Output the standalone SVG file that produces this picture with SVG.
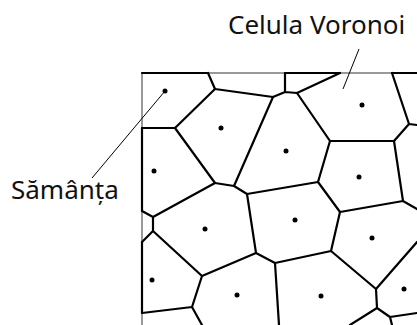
<svg xmlns="http://www.w3.org/2000/svg" width="417" height="325" viewBox="0 0 417 325">
<style>
.frame{fill:none;stroke:#333;stroke-width:1}
.edge{fill:none;stroke:#000;stroke-width:2.2;stroke-linecap:round;stroke-linejoin:round}
.seed{fill:#000}
.lead{fill:none;stroke:#000;stroke-width:1}
.lbl{font-family:"Noto Sans","Open Sans","DejaVu Sans",sans-serif;font-size:26px;fill:#111}
</style>
<rect width="417" height="325" fill="#fff"/>
<g id="frame">
<path class="frame" d="M142,325 V73 H417"/>
</g>
<g id="edges">
<path class="edge" d="M142,73 H208 M285,73 H340 M392,73 H417 M142,128 V211 M142,242 V313"/>
<path class="edge" d="M208,73 L215,89 L273,97 L285,92 L297,93 L340,73 M285,92 V73 M297,93 L330,141 L394,141 L409,124 L392,73 M409,124 L417,125"/>
<path class="edge" d="M215,89 L175,128 L142,128 M175,128 L215,183 L234,186 L273,97 M234,186 L247,194 L318,182 L330,141 M318,182 L340,212 L403,201 L394,141 M403,201 L417,209"/>
<path class="edge" d="M215,183 L153,217 L142,211 M153,217 L153,231 L142,242 M153,231 L202,276 L256,253 L247,194 M256,253 L275,263 L279,325 M202,276 L192,307 L142,313 M192,307 L202,325"/>
<path class="edge" d="M340,212 L331,251 L275,263 M331,251 L376,289 L417,242 M376,289 L377,308 L350,325 M377,308 L390,317 L417,313 M390,317 L392,325"/>
</g>
<g id="seeds">
<circle class="seed" cx="165" cy="91" r="2.5"/>
<circle class="seed" cx="221" cy="128" r="2.5"/>
<circle class="seed" cx="286" cy="151" r="2.5"/>
<circle class="seed" cx="362" cy="105" r="2.5"/>
<circle class="seed" cx="154" cy="171" r="2.5"/>
<circle class="seed" cx="359" cy="177" r="2.5"/>
<circle class="seed" cx="205" cy="229" r="2.5"/>
<circle class="seed" cx="295" cy="220" r="2.5"/>
<circle class="seed" cx="372" cy="238" r="2.5"/>
<circle class="seed" cx="152" cy="280" r="2.5"/>
<circle class="seed" cx="237" cy="295" r="2.5"/>
<circle class="seed" cx="321" cy="296" r="2.5"/>
<circle class="seed" cx="404" cy="289" r="2.5"/>
</g>
<g id="label-celula">
<line class="lead" x1="359" y1="49" x2="343" y2="89"/>
<text class="lbl" x="228" y="34">Celula Voronoi</text>
</g>
<g id="label-samanta">
<line class="lead" x1="165" y1="91" x2="92" y2="178"/>
<text class="lbl" x="11" y="199">Sămânța</text>
</g>
</svg>
